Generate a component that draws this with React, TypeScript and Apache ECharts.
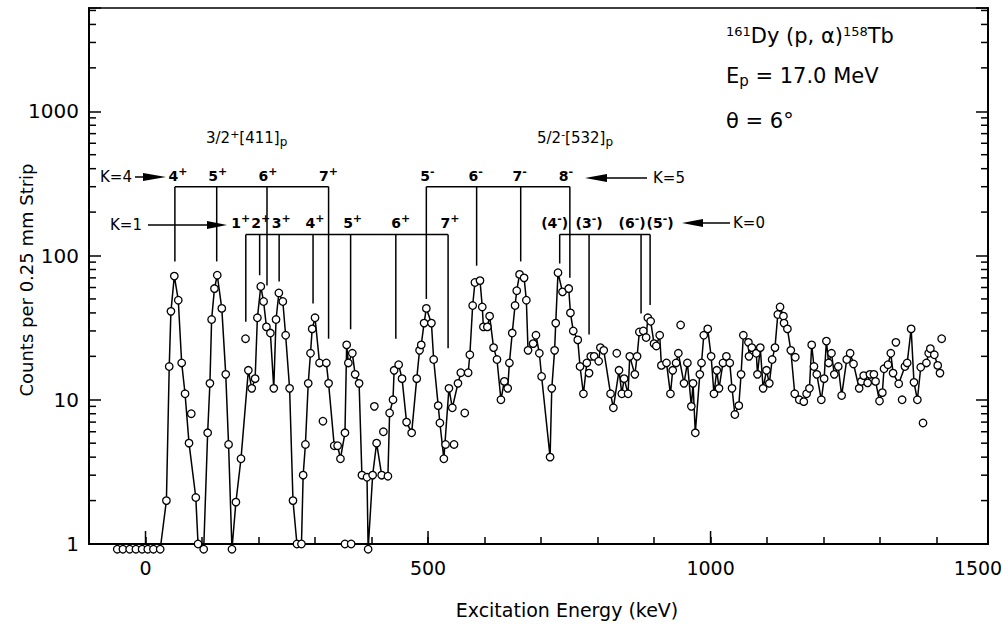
import React, { useEffect, useRef } from 'react';
import * as echarts from 'echarts';

// ---------- axes ----------
const xMin = -100;
const xMax = 1491;
const yMin = 1;
const yMax = 5200;
const xLabelTicks = [0, 500, 1000, 1500];
const xMajorTicks = [0, 500, 1000];
const yLabelTicks = [1, 10, 100, 1000];
const yMinorTicks = [2, 3, 4, 5, 6, 7, 8, 9, 20, 30, 40, 50, 60, 70, 80, 90, 200, 300, 400, 500, 600, 700, 800, 900, 2000, 3000, 4000, 5000];

// ---------- spectrum (connected points) [keV, counts]; 0.92 = empty strip drawn below 1 ----------
const spectrum: [number, number][] = [
  [-50, 0.92], [-40, 0.92], [-28, 0.92], [-17, 0.92], [-6, 0.92], [4, 0.92], [14, 0.92], [26, 0.92],
  [37, 2.0], [42, 17], [45, 41], [51, 72], [58, 49], [64, 18], [70, 11], [77, 5.0], [89, 2.1], [93, 1.0], [103, 0.92],
  [110, 5.9], [114, 13], [117, 36], [122, 59], [127, 73], [135, 43], [142, 15], [147, 4.9], [153, 0.92], [160, 1.95], [169, 3.9],
  [182, 16], [188, 12], [194, 14], [198, 37], [204, 61], [209, 48], [214, 32], [221, 29], [227, 12], [231, 36], [236, 55],
  [243, 48], [248, 28], [255, 12], [261, 2.0], [268, 1.0], [276, 1.0], [279, 3.0], [283, 4.9], [288, 13], [292, 21], [295, 31],
  [300, 37], [308, 18], [320, 18], [324, 13], [334, 4.8], [340, 4.8], [345, 3.9], [353, 5.9], [356, 24], [359, 18], [366, 21],
  [371, 15], [378, 13], [383, 3.0], [392, 2.9], [394, 0.92], [402, 3.0], [409, 5.0], [418, 3.0], [429, 2.95], [432, 8.1],
  [438, 10], [440, 16], [448, 17.5], [454, 14], [462, 7.0], [471, 5.9], [480, 14], [485, 22], [488, 24], [493, 34], [497, 43],
  [506, 34], [510, 19], [518, 9.1], [521, 6.9], [528, 3.9], [537, 12], [543, 8.8], [553, 13], [558, 15.4], [571, 15.4],
  [574, 20.5], [579, 45], [583, 65], [592, 67], [596, 44], [598, 32], [605, 32], [609, 38], [616, 23], [622, 19], [629, 10],
  [635, 13.4], [641, 12], [644, 18], [649, 29], [654, 45], [657, 57], [662, 74], [670, 70], [674, 49], [677, 22], [686, 24.5],
  [691, 28], [697, 21], [701, 14.5], [716, 4.0], [719, 12], [724, 22], [726, 34], [730, 76], [738, 56], [749, 59], [752, 40],
  [757, 30], [765, 26], [769, 17], [775, 11], [781, 18], [788, 20], [794, 20], [802, 18.5], [805, 23], [811, 22], [823, 11],
  [828, 8.8], [838, 16], [843, 11], [847, 14], [854, 11], [857, 20], [866, 15], [870, 20], [874, 29.5], [881, 30], [886, 27],
  [889, 37], [894, 35], [900, 24.5], [904, 23.6], [910, 28], [913, 17.3], [922, 18], [929, 11], [933, 16], [939, 18], [943, 21],
  [953, 13], [959, 18], [966, 9], [969, 13], [973, 5.9], [981, 15], [984, 18], [988, 28], [995, 31], [1001, 20], [1006, 11],
  [1011, 16], [1015, 12], [1022, 18], [1028, 20], [1034, 18], [1038, 12], [1043, 7.9], [1050, 9.1], [1054, 15], [1058, 28],
  [1067, 25], [1068, 20], [1073, 23], [1081, 21], [1083, 15], [1088, 23], [1093, 12], [1099, 16], [1104, 13], [1109, 19],
  [1114, 23], [1119, 39], [1123, 44], [1129, 38], [1130, 34], [1136, 31], [1142, 22], [1149, 11], [1157, 10], [1165, 9.7],
  [1170, 11], [1175, 12], [1179, 24], [1183, 17], [1188, 15], [1196, 10], [1201, 14], [1205, 25.5], [1209, 18], [1214, 21],
  [1219, 15], [1226, 17], [1232, 10.7], [1241, 19], [1247, 21], [1253, 17.7], [1263, 12], [1267, 13.4], [1271, 14.7],
  [1278, 13.1], [1282, 15], [1289, 15], [1292, 13.4], [1299, 9.8], [1304, 11.2], [1307, 16.4], [1314, 17.5], [1319, 21],
  [1323, 15.3], [1333, 12.9], [1344, 17], [1348, 18], [1355, 31], [1360, 13.2], [1366, 10], [1372, 16.8], [1382, 18],
  [1386, 21], [1389, 22.6], [1396, 20.5], [1402, 17.3], [1406, 15.3],
];

// ---------- isolated points ----------
const strays: [number, number][] = [
  [81, 8.0], [177, 26.5], [314, 7.1], [353, 1.0], [364, 1.0], [405, 9.0], [421, 6.0], [531, 4.9], [546, 4.9], [565, 8.1],
  [785, 15.3], [834, 21], [947, 33], [1150, 19.7], [1328, 25], [1339, 10], [1376, 6.9], [1409, 26.5],
];

// ---------- rotational band levels ----------
const k4Energies = [52, 126, 215, 324];
const k4Labels = ['4{s|+}', '5{s|+}', '6{s|+}', '7{s|+}'];
const k4LineEnds = [91, 91, 62, 26.5];
const k4Bracket = 300;

const k1Energies = [177.5, 202, 236.5, 296.5, 363, 443, 535.5];
const k1Labels = ['1{s|+}', '2{s|+}', '3{s|+}', '4{s|+}', '5{s|+}', '6{s|+}', '7{s|+}'];
const k1LineEnds = [34.7, 73, 66, 46.5, 30.8, 26.5, 22.8];
const k1Bracket = 140;

const k5Energies = [497, 586, 664, 751];
const k5Labels = ['5{s|-}', '6{s|-}', '7{s|-}', '8{s|-}'];
const k5LineEnds = [50, 85, 91, 70];
const k5Bracket = 300;

const k0Energies = [733, 785, 877, 893];
const k0Labels = ['(4{s|-})', '(3{s|-})', '(6{s|-})', '(5{s|-})'];
const k0LineEnds = [88, 28.3, 39.6, 45.3];
const k0Bracket = 140;

const FONT = 'DejaVu Sans';
const BLACK = '#000';

const levelLabelDx: Record<string, number[]> = {
  k4: [3, 1, 1, 0],
  k1: [-5, 1, 2, 2, 2, 5, 2],
  k5: [1, -1, -1, -4],
  k0: [-5, 0, -9, 10],
};

function bandSeries(energies: number[], labels: string[], ends: number[], bracket: number, dx: number[]) {
  return {
    type: 'custom',
    coordinateSystem: 'cartesian2d',
    xAxisIndex: 0,
    yAxisIndex: 0,
    clip: false,
    silent: true,
    z: 1,
    data: [[energies[0], bracket]],
    renderItem: (_params: any, api: any) => {
      const yb = api.coord([energies[0], bracket])[1];
      const xs = energies.map((e) => api.coord([e, bracket])[0]);
      const children: any[] = [
        { type: 'line', shape: { x1: xs[0], y1: yb, x2: xs[xs.length - 1], y2: yb }, style: { stroke: BLACK, lineWidth: 1.5 } },
      ];
      energies.forEach((e, i) => {
        const ye = api.coord([e, ends[i]])[1];
        children.push({ type: 'line', shape: { x1: xs[i], y1: yb, x2: xs[i], y2: ye }, style: { stroke: BLACK, lineWidth: 1.5 } });
        children.push({
          type: 'text',
          x: xs[i] + dx[i],
          y: yb - 11,
          style: {
            text: labels[i],
            fontSize: 14,
            fontWeight: 'bold',
            fontFamily: FONT,
            fill: BLACK,
            align: 'center',
            verticalAlign: 'middle',
            rich: { s: { fontSize: 11, fontWeight: 'bold', fontFamily: FONT, padding: [0, 0, 9, 0] } },
          },
        });
      });
      return { type: 'group', children };
    },
  };
}

const isDecade = (v: number) => Math.abs(Math.log10(v) - Math.round(Math.log10(v))) < 1e-6;

export default function App() {
  const ref = useRef<HTMLDivElement>(null);
  useEffect(() => {
    if (!ref.current) return;
    const chart = echarts.init(ref.current, undefined, { renderer: 'svg' });
    const supRich = (size: number, raise: number) => ({ fontSize: size, fontFamily: FONT, padding: [0, 0, raise, 0] });
    const subRich = (size: number, drop: number) => ({ fontSize: size, fontFamily: FONT, padding: [drop, 0, 0, 0] });

    const option: any = {
      animation: false,
      backgroundColor: '#fff',
      grid: { left: 89, right: 20, top: 8, bottom: 80, show: true, borderColor: BLACK, borderWidth: 1.5, backgroundColor: 'transparent' },
      xAxis: {
        type: 'value',
        min: xMin,
        max: xMax,
        interval: 100,
        axisLine: { onZero: false, lineStyle: { color: BLACK, width: 2 } },
        axisTick: { inside: true, length: 7, lineStyle: { color: BLACK, width: 1.5 } },
        axisLabel: {
          color: BLACK,
          fontSize: 19,
          fontFamily: FONT,
          margin: 14,
          formatter: (v: number) => (xLabelTicks.indexOf(v) >= 0 ? String(v) : ''),
        },
        splitLine: { show: false },
      },
      yAxis: [
        {
          type: 'log',
          logBase: 10,
          min: yMin,
          max: yMax,
          position: 'left',
          axisLine: { show: true, onZero: false, lineStyle: { color: BLACK, width: 2 } },
          axisTick: { inside: true, length: 12, lineStyle: { color: BLACK, width: 1.5 } },
          axisLabel: {
            color: BLACK,
            fontSize: 20,
            fontFamily: FONT,
            margin: 10,
            formatter: (v: number) => {
              if (!isDecade(v)) return '';
              const r = Math.round(v);
              return yLabelTicks.indexOf(r) >= 0 ? String(r) : '';
            },
          },
          splitLine: { show: false },
        },
        {
          type: 'log',
          logBase: 10,
          min: yMin,
          max: yMax,
          position: 'right',
          axisLine: { show: true, onZero: false, lineStyle: { color: BLACK, width: 2 } },
          axisTick: { inside: true, length: 12, lineStyle: { color: BLACK, width: 1.5 } },
          axisLabel: { show: false },
          splitLine: { show: false },
        },
      ],
      series: [
        {
          type: 'custom',
          name: 'yMinorTicks',
          coordinateSystem: 'cartesian2d',
          clip: false,
          silent: true,
          data: yMinorTicks.map((v) => [xMin, v]),
          renderItem: (_p: any, api: any) => {
            const v = api.value(1);
            const [xl, y] = api.coord([xMin, v]);
            const xr = api.coord([xMax, v])[0];
            return {
              type: 'group',
              children: [
                { type: 'line', shape: { x1: xl, y1: y, x2: xl + 7, y2: y }, style: { stroke: BLACK, lineWidth: 1.5 } },
                { type: 'line', shape: { x1: xr, y1: y, x2: xr - 7, y2: y }, style: { stroke: BLACK, lineWidth: 1.5 } },
              ],
            };
          },
        },
        {
          type: 'custom',
          name: 'xMajorTicks',
          coordinateSystem: 'cartesian2d',
          clip: false,
          silent: true,
          data: xMajorTicks.map((v) => [v, yMin]),
          renderItem: (_p: any, api: any) => {
            const [x, y] = api.coord([api.value(0), yMin]);
            return { type: 'line', shape: { x1: x, y1: y, x2: x, y2: y - 13 }, style: { stroke: BLACK, lineWidth: 1.5 } };
          },
        },
        bandSeries(k4Energies, k4Labels, k4LineEnds, k4Bracket, levelLabelDx.k4),
        bandSeries(k1Energies, k1Labels, k1LineEnds, k1Bracket, levelLabelDx.k1),
        bandSeries(k5Energies, k5Labels, k5LineEnds, k5Bracket, levelLabelDx.k5),
        bandSeries(k0Energies, k0Labels, k0LineEnds, k0Bracket, levelLabelDx.k0),
        {
          type: 'line',
          name: 'spectrum',
          data: spectrum,
          clip: false,
          showAllSymbol: true,
          symbol: 'circle',
          symbolSize: 7.5,
          lineStyle: { color: BLACK, width: 1.5 },
          itemStyle: { color: '#fff', borderColor: BLACK, borderWidth: 1.3, opacity: 1 },
          z: 3,
        },
        {
          type: 'scatter',
          name: 'strays',
          data: strays,
          clip: false,
          symbol: 'circle',
          symbolSize: 7.5,
          itemStyle: { color: '#fff', borderColor: BLACK, borderWidth: 1.3, opacity: 1 },
          z: 3,
        },
      ],
      graphic: [],
    };
    chart.setOption(option);

    // labels outside the axis extent (e.g. 1500) placed through the axis scale
    const outside = xLabelTicks.filter((v) => v > xMax || v < xMin);
    const extraLabels = outside.map((v) => {
      const px = chart.convertToPixel({ xAxisIndex: 0 }, v) as number;
      return {
        type: 'text',
        x: Math.min(px, 1008 - 30),
        y: 624 - 80 + 14,
        style: { text: String(v), fontSize: 19, fontFamily: FONT, fill: BLACK, align: 'center', verticalAlign: 'top' },
      };
    });

    const txt = (x: number, y: number, text: string, size: number, extra: any = {}) => ({
      type: 'text',
      x,
      y,
      style: { text, fontSize: size, fontFamily: FONT, fill: BLACK, align: 'left', verticalAlign: 'middle', ...extra },
    });

    chart.setOption({
      graphic: [
        ...extraLabels,
        // axis names
        txt(567, 610, 'Excitation Energy (keV)', 19, { align: 'center' }),
        {
          type: 'text',
          x: 26,
          y: 280,
          rotation: Math.PI / 2,
          style: { text: 'Counts per 0.25 mm Strip', fontSize: 18, fontFamily: FONT, fill: BLACK, align: 'center', verticalAlign: 'middle' },
        },
        // reaction info
        txt(726, 36, '{sup|161}Dy (p, α){sup|158}Tb', 21, { rich: { sup: supRich(13, 10) } }),
        txt(726, 76, 'E{sub|p} = 17.0 MeV', 21, { rich: { sub: subRich(15, 10) } }),
        txt(726, 121, 'θ = 6°', 21),
        // band labels
        txt(206, 138, '3/2{sup|+}[411]{sub|p}', 15, { rich: { sup: supRich(11, 8), sub: subRich(12, 8) } }),
        txt(537, 138, '5/2{sup|-}[532]{sub|p}', 15, { rich: { sup: supRich(11, 8), sub: subRich(12, 8) } }),
        // K labels and arrows
        txt(100, 177, 'K=4', 15),
        { type: 'line', shape: { x1: 135, y1: 177, x2: 146, y2: 177 }, style: { stroke: BLACK, lineWidth: 1.5 } },
        { type: 'polygon', shape: { points: [[143, 173], [166, 177], [143, 181]] }, style: { fill: BLACK } },
        txt(110, 225, 'K=1', 15),
        { type: 'line', shape: { x1: 148, y1: 225, x2: 210, y2: 225 }, style: { stroke: BLACK, lineWidth: 1.5 } },
        { type: 'polygon', shape: { points: [[207, 221], [227, 225], [207, 229]] }, style: { fill: BLACK } },
        txt(653, 178, 'K=5', 15),
        { type: 'line', shape: { x1: 603, y1: 178, x2: 647, y2: 178 }, style: { stroke: BLACK, lineWidth: 1.5 } },
        { type: 'polygon', shape: { points: [[585, 178], [607, 174], [607, 182]] }, style: { fill: BLACK } },
        txt(733, 223, 'K=0', 15),
        { type: 'line', shape: { x1: 700, y1: 223, x2: 730, y2: 223 }, style: { stroke: BLACK, lineWidth: 1.5 } },
        { type: 'polygon', shape: { points: [[682, 223], [703, 219], [703, 227]] }, style: { fill: BLACK } },
      ],
    });

    return () => chart.dispose();
  }, []);
  return <div ref={ref} style={{ position: 'fixed', left: 0, top: 0, width: 1008, height: 624, background: '#fff' }} />;
}
